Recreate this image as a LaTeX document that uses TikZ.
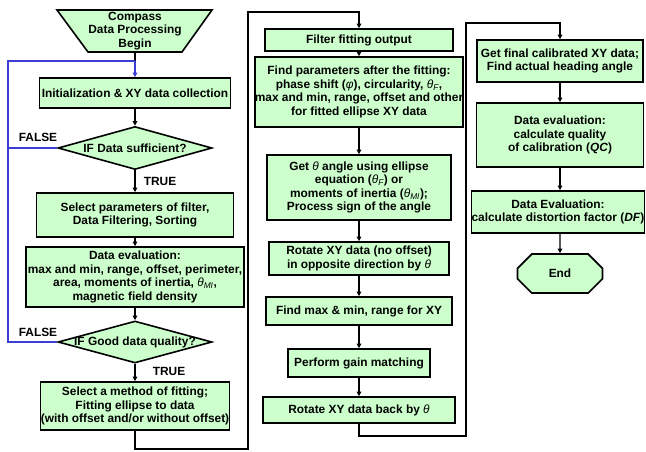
\documentclass[tikz,border=0pt]{standalone}
\usepackage{fontspec}
\setmainfont{Liberation Sans}
\usetikzlibrary{arrows.meta,shapes.geometric,shapes.misc}
\definecolor{boxgreen}{RGB}{204,255,204}
\definecolor{loopblue}{RGB}{60,60,215}
\newcommand\thet{{\normalfont\itshape θ}}
\newcommand\phii{{\normalfont\itshape φ}}
\newcommand\sbs[1]{\textsubscript{\normalfont\itshape #1}}
\begin{document}
\begin{tikzpicture}[x=1pt,y=-1pt,
  every node/.style={font=\bfseries\fontsize{11.9}{13.6}\selectfont},
  box/.style={draw=black, line width=1.6pt, fill=boxgreen, align=center, inner sep=0pt},
  dec/.style={diamond, draw=black, line width=1.6pt, fill=boxgreen, inner sep=0.5pt},
  shapeline/.style={draw=black, line width=1.6pt, fill=boxgreen, line join=miter},
  conn/.style={draw=black, line width=1.2pt},
  arr/.style={-{Triangle[length=4.5pt,width=4.5pt]}},
  blueline/.style={draw=loopblue, line width=1.2pt}]
\useasboundingbox (0,0) rectangle (646,451);

% ---- left column
\draw[shapeline] (57,10) -- (212,10) -- (182,52) -- (88,52) -- cycle;
\node[align=center] (begin) at (135,31) {Compass\\Data Processing\\Begin};
\coordinate (bs) at (135,52);
\node[box, minimum width=191pt, minimum height=30pt] (init) at (135,93) {Initialization \& XY data collection};
\node[dec, minimum width=154pt, minimum height=43pt] (d1) at (135,148) {};
\node (d1t) at (135,148) {IF Data sufficient?};
\node[box, minimum width=197pt, minimum height=44pt] (filt) at (135,215) {Select parameters of filter,\\Data Filtering, Sorting};
\node[box, minimum width=218pt, minimum height=60pt] (eval) at (135,277) {Data evaluation:\\max and min, range, offset, perimeter,\\area, moments of inertia, \thet\sbs{MI},\\magnetic field density};
\node[dec, minimum width=154pt, minimum height=42pt] (d2) at (135,342) {};
\node (d2t) at (135,342) {IF Good data quality?};
\node[box, minimum width=189pt, minimum height=48pt] (fit) at (135,406) {Select a method of fitting;\\Fitting ellipse to data\\(with offset and/or without offset)};

\node (false1) at (38,137) {FALSE};
\node (false2) at (38,332) {FALSE};
\node (true1) at (160,181) {TRUE};
\node (true2) at (169,371) {TRUE};

% ---- middle column
\node[box, minimum width=188pt, minimum height=22pt] (ffo) at (359,40) {Filter fitting output};
\node[box, minimum width=204pt, minimum height=70pt] (fpar) at (359,92) {Find parameters after the fitting:\\phase shift (\phii), circularity, \thet\sbs{F},\\max and min, range, offset and other\\for fitted ellipse XY data};
\node[box, minimum width=184pt, minimum height=65pt] (gth) at (359,187.5) {Get \thet\ angle using ellipse\\equation (\thet\sbs{F}) or\\moments of inertia (\thet\sbs{MI});\\Process sign of the angle};
\node[box, minimum width=180pt, minimum height=33pt] (rot) at (359,258.5) {Rotate XY data (no offset)\\in opposite direction by \thet};
\node[box, minimum width=186pt, minimum height=28pt] (fmm) at (359,311) {Find max \& min, range for XY};
\node[box, minimum width=142pt, minimum height=28pt] (pgm) at (359,363) {Perform gain matching};
\node[box, minimum width=192pt, minimum height=26pt] (rback) at (359,410) {Rotate XY data back by \thet};

% ---- right column
\node[box, minimum width=166pt, minimum height=42pt] (gfc) at (560,61) {Get final calibrated XY data;\\Find actual heading angle};
\node[box, minimum width=167pt, minimum height=64pt] (dq) at (560,135) {Data evaluation:\\calculate quality\\of calibration (\textit{QC})};
\node[box, minimum width=172pt, minimum height=42pt] (ddf) at (558,212) {Data Evaluation:\\calculate distortion factor (\textit{DF})};
\node[box, chamfered rectangle, chamfered rectangle xsep=10pt, chamfered rectangle ysep=10pt,
      minimum width=85pt, minimum height=39pt] (end) at (560,273.5) {End};

% ---- coordinates
\coordinate (j1) at (135,61);
\coordinate (lx1) at (8,148);
\coordinate (lx2) at (8,342);
\coordinate (lt) at (8,61);
\coordinate (c1) at (135,449);
\coordinate (c2) at (248,449);
\coordinate (c3) at (248,12);
\coordinate (c4) at (359,12);
\coordinate (e1) at (359,436);
\coordinate (e2) at (466,436);
\coordinate (e3) at (466,23);
\coordinate (e4) at (560,23);

% ---- connectors
\draw[conn] (bs) -- (j1);
\draw[blueline] (d1.west) -- (lx1) -- (lt) -- (j1);
\draw[blueline] (d2.west) -- (lx2) -- (lx1);
\draw[blueline, arr] (j1) -- (init.north);
\draw[conn, arr] (init) -- (d1);
\draw[conn, arr] (d1) -- (filt);
\draw[conn, arr] (filt) -- (eval);
\draw[conn, arr] (eval) -- (d2);
\draw[conn, arr] (d2) -- (fit);
\draw[conn, arr] (fit.south) -- (c1) -- (c2) -- (c3) -- (c4) -- (ffo.north);
\draw[conn, arr] (ffo) -- (fpar);
\draw[conn, arr] (fpar) -- (gth);
\draw[conn, arr] (gth) -- (rot);
\draw[conn, arr] (rot) -- (fmm);
\draw[conn, arr] (fmm) -- (pgm);
\draw[conn, arr] (pgm) -- (rback);
\draw[conn, arr] (rback.south) -- (e1) -- (e2) -- (e3) -- (e4) -- (gfc.north);
\draw[conn, arr] (gfc) -- (dq);
\draw[conn, arr] (dq) -- (ddf.north -| dq.south);
\draw[conn, arr] (ddf.south -| end.north) -- (end);
\end{tikzpicture}
\end{document}
